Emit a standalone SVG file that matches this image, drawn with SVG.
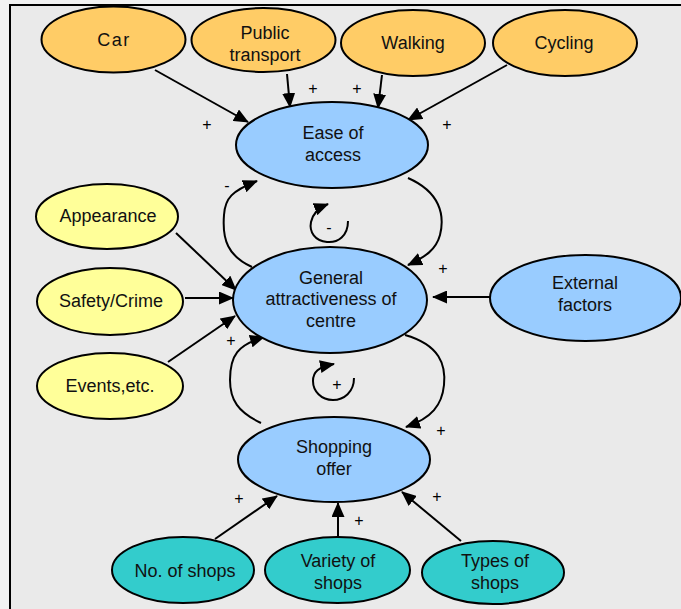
<svg xmlns="http://www.w3.org/2000/svg" width="681" height="609" viewBox="0 0 681 609">
<style>
text{font-family:"Liberation Sans",Arial,sans-serif;font-size:18px;fill:#111;text-anchor:middle}
.sign{font-size:16px;fill:#000}
ellipse{stroke:#000;stroke-width:2}
.mode{fill:#ffcc66}
.fac{fill:#ffff99}
.core{fill:#99ccff}
.shop{fill:#33cccc}
#connectors path{fill:none;stroke:#000;stroke-width:2;marker-end:url(#arr)}
</style>
<defs>
<marker id="arr" markerUnits="userSpaceOnUse" markerWidth="15" markerHeight="13" refX="14" refY="6.5" orient="auto">
<path d="M0,0 L15,6.5 L0,13 z" fill="#000"/>
</marker>
</defs>
<rect x="0" y="0" width="681" height="609" fill="#f2f2f2"/>
<rect x="10" y="5" width="690" height="630" fill="#eaeaea" stroke="#000" stroke-width="2"/>

<g id="connectors">
<path d="M155,70 L248,122"/>
<path d="M287,74 L290,107"/>
<path d="M382,75 L378,108"/>
<path d="M507,65 L408,120"/>
<path d="M176,233 L236,290"/>
<path d="M185,298 L233,298"/>
<path d="M168,362 L235,316"/>
<path d="M490,297 L433,297"/>
<path d="M408,178 C440,192 445,215 440,235 C436,250 425,257 408,265"/>
<path d="M252,267 C228,256 222,240 224,215 C225,198 232,191 257,181"/>
<path d="M348,221 C348,236 338,243 327,242 C315,241 309,232 311,222 C313,213 318,208 328,204"/>
<path d="M405,335 C440,345 446,365 444,385 C442,405 432,418 406,427"/>
<path d="M261,423 C238,412 230,400 230,380 C230,355 238,345 264,337"/>
<path d="M354,378 C354,392 344,400 333,400 C321,400 313,391 313,381 C313,372 318,367 334,364"/>
<path d="M215,539 L277,496"/>
<path d="M338,537 L338,503"/>
<path d="M461,541 L402,492"/>
</g>

<g id="signs">
<text class="sign" x="207" y="130">+</text>
<text class="sign" x="313" y="94">+</text>
<text class="sign" x="357" y="94">+</text>
<text class="sign" x="447" y="130">+</text>
<text class="sign" x="227" y="191">-</text>
<text class="sign" x="329" y="233">-</text>
<text class="sign" x="443" y="274">+</text>
<text class="sign" x="231" y="346">+</text>
<text class="sign" x="337" y="390">+</text>
<text class="sign" x="441" y="436">+</text>
<text class="sign" x="239" y="504">+</text>
<text class="sign" x="359" y="526">+</text>
<text class="sign" x="437" y="502">+</text>
</g>

<g id="car"><ellipse class="mode" cx="113.5" cy="39.5" rx="72" ry="33"/><text x="114" y="45.5" style="letter-spacing:1.5px">Car</text></g>
<g id="public-transport"><ellipse class="mode" cx="263.5" cy="40" rx="72" ry="32"/><text x="265" y="39">Public</text><text x="265" y="61">transport</text></g>
<g id="walking"><ellipse class="mode" cx="413" cy="43" rx="72" ry="33"/><text x="413" y="49">Walking</text></g>
<g id="cycling"><ellipse class="mode" cx="565" cy="43" rx="72" ry="33"/><text x="564" y="49">Cycling</text></g>
<g id="ease-of-access"><ellipse class="core" cx="332" cy="145" rx="96" ry="43"/><text x="333" y="139">Ease of</text><text x="333" y="161">access</text></g>
<g id="appearance"><ellipse class="fac" cx="107" cy="216.5" rx="71" ry="32.5"/><text x="108" y="222">Appearance</text></g>
<g id="safety-crime"><ellipse class="fac" cx="110" cy="301.5" rx="73" ry="33.5"/><text x="111" y="307">Safety/Crime</text></g>
<g id="events"><ellipse class="fac" cx="110" cy="386" rx="73" ry="33"/><text x="110" y="392">Events,etc.</text></g>
<g id="general-attractiveness"><ellipse class="core" cx="330" cy="300" rx="97" ry="53"/><text x="331" y="284">General</text><text x="331" y="305">attractiveness of</text><text x="331" y="327">centre</text></g>
<g id="external-factors"><ellipse class="core" cx="585.5" cy="298" rx="95.5" ry="43"/><text x="585" y="289">External</text><text x="585" y="311">factors</text></g>
<g id="shopping-offer"><ellipse class="core" cx="334" cy="459.5" rx="96" ry="42.5"/><text x="334" y="453">Shopping</text><text x="334" y="475">offer</text></g>
<g id="no-of-shops"><ellipse class="shop" cx="183" cy="570" rx="71" ry="33"/><text x="185" y="577">No. of shops</text></g>
<g id="variety-of-shops"><ellipse class="shop" cx="337.5" cy="570" rx="72.5" ry="33"/><text x="338" y="567">Variety of</text><text x="338" y="589">shops</text></g>
<g id="types-of-shops"><ellipse class="shop" cx="493" cy="572.5" rx="71" ry="31.5"/><text x="495" y="567">Types of</text><text x="495" y="589">shops</text></g>
</svg>
